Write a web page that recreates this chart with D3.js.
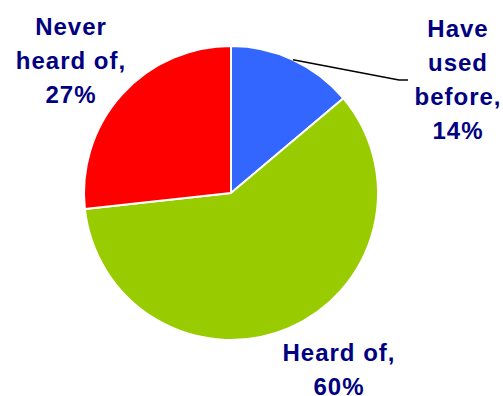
<!DOCTYPE html>
<html>
<head>
<meta charset="utf-8">
<script src="https://cdn.jsdelivr.net/npm/d3@7"></script>
<style>
  html, body { margin: 0; padding: 0; background: #fff; }
  svg { display: block; }
  .label { font-family: "Liberation Sans", Arial, sans-serif; font-weight: bold; font-size: 24px; fill: #000080; letter-spacing: 1px; }
</style>
</head>
<body>
<div id="pie-div"></div>
<script>
// Script globals
const CHART_WIDTH = 503
const CHART_HEIGHT = 396

// Data
const categories = ["Have used before", "Heard of", "Never heard of"]
const values = [14, 60, 27]
const colors = ["#3366FF", "#99CC00", "#FF0000"]

// label layout (center x, first baseline y), lines
const labelLines = [
  ["Have", "used", "before,", "14%"],
  ["Heard of,", "60%"],
  ["Never", "heard of,", "27%"]
]
const labelPos = [[458, 37], [339, 361], [71, 35]]
const LINE_STEP = 34

init();

function init () {
  const svg = d3.select("#pie-div").append("svg")
    .attr("width", CHART_WIDTH)
    .attr("height", CHART_HEIGHT)

  const cx = 231, cy = 193, radius = 147

  const pie = d3.pie().sort(null).value(d => d.value)
  const data = categories.map((c, i) => ({ name: c, value: values[i], color: colors[i] }))
  const arcs = pie(data)

  const arc = d3.arc().innerRadius(0).outerRadius(radius)

  const g = svg.append("g").attr("transform", `translate(${cx},${cy})`)

  g.selectAll("path")
    .data(arcs)
    .enter().append("path")
      .attr("d", arc)
      .attr("fill", d => d.data.color)
      .attr("stroke", "#fff")
      .attr("stroke-width", 2)
      .attr("stroke-linejoin", "round")

  // leader line for the small slice
  const first = arcs[0]
  const mid = (first.startAngle + first.endAngle) / 2
  const sx = cx + Math.sin(mid) * radius
  const sy = cy - Math.cos(mid) * radius
  svg.append("polyline")
    .attr("points", `${sx},${sy} 399,80 408,80`)
    .attr("fill", "none")
    .attr("stroke", "#000")
    .attr("stroke-width", 1.5)

  // labels
  labelLines.forEach((lines, i) => {
    const t = svg.append("text")
      .attr("class", "label")
      .attr("text-anchor", "middle")
    lines.forEach((line, j) => {
      t.append("tspan")
        .attr("x", labelPos[i][0])
        .attr("y", labelPos[i][1] + j * LINE_STEP)
        .text(line)
    })
  })
}
</script>
</body>
</html>
